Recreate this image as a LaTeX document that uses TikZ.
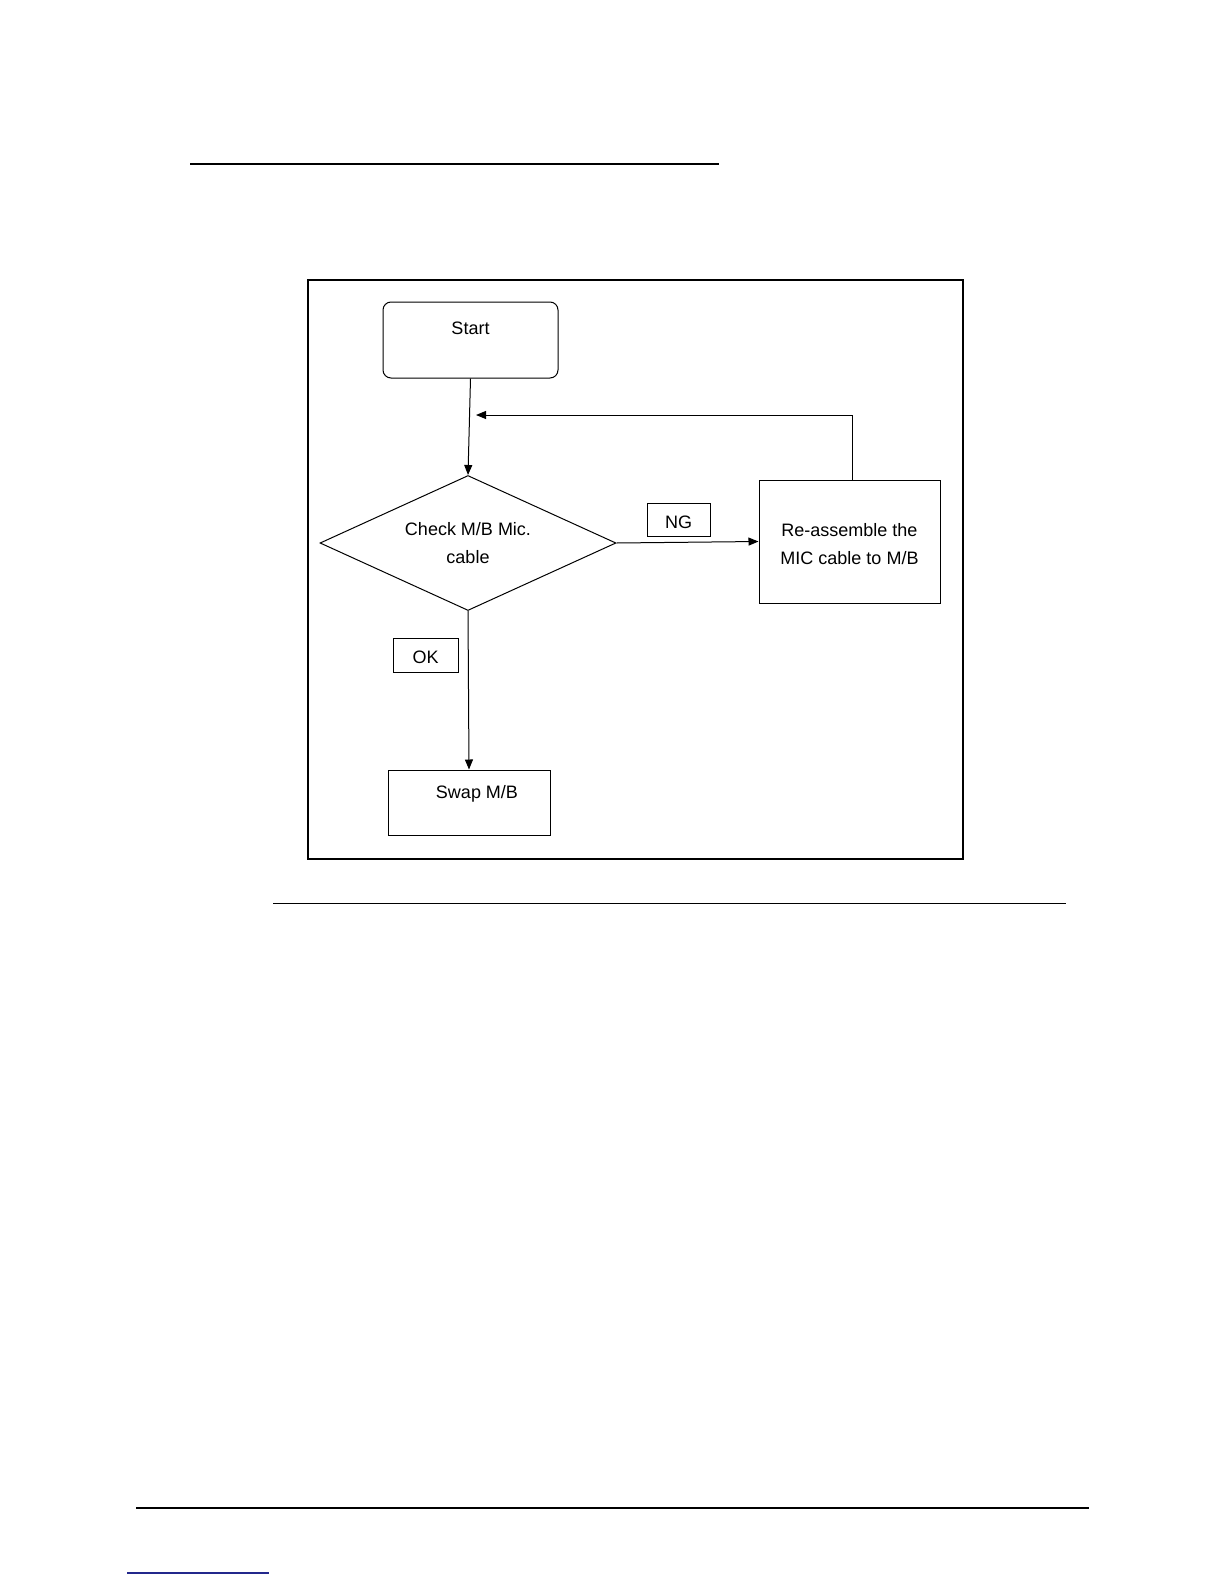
\documentclass[tikz,border=0pt]{standalone}
\usepackage{fontspec}
\setmainfont{Liberation Sans}
\usetikzlibrary{arrows.meta,shapes.geometric}
\definecolor{linkblue}{RGB}{35,40,140}

\begin{document}
\begin{tikzpicture}[x=0.5pt, y=-0.5pt, font=\fontsize{9}{14}\selectfont,
  box/.style={draw, line width=0.5pt, inner sep=0pt, align=center},
  tag/.style={draw, line width=0.5pt, inner sep=0pt, minimum height=16.5pt, text height=8.5pt, text depth=0pt},
  flow/.style={line width=0.5pt, -{Triangle[length=5pt,width=4pt]}}]
\useasboundingbox (0,0) rectangle (1224,1584);
\draw[line width=1pt] (190,164) -- (719,164);
\draw[line width=1.3pt] (308,280) rectangle (963,859);
\node[box, rounded corners=4pt, minimum width=87.5pt, minimum height=38pt, label={[anchor=north, yshift=-6.5pt]north:Start}] (start) at (470.5,340) {};
\node[box, diamond, aspect=2.2, minimum width=148pt, minimum height=67.5pt] (check) at (468,543) {Check M/B Mic.\\cable};
\node[box, minimum width=90.5pt, minimum height=61.5pt, label={[align=center, yshift=-1.5pt]center:Re-assemble the\\MIC cable to M/B}] (fix) at (849.5,541.5) {};
\node[box, minimum width=81pt, minimum height=32.5pt, label={[anchor=north, xshift=4pt, yshift=-4.5pt]north:Swap M/B}] (swap) at (469,802.5) {};
\node[tag, minimum width=31.5pt] (ng) at (678.5,519.5) {NG};
\node[tag, minimum width=32.5pt, minimum height=17pt] (ok) at (425.5,655) {OK};
\coordinate (back) at (476,415);
\draw[flow] (start.south) -- (check.north);
\draw[flow] (check.east) -- (fix.west);
\draw[flow] (check.south) -- (swap.north);
\draw[flow] ([xshift=1.25pt]fix.north) |- (back);
\draw[line width=0.5pt] (273,903) -- (1066,903);
\draw[line width=0.8pt] (136,1508) -- (1089,1508);
\draw[linkblue, line width=0.8pt] (127,1573) -- (269,1573);
\end{tikzpicture}
\end{document}
